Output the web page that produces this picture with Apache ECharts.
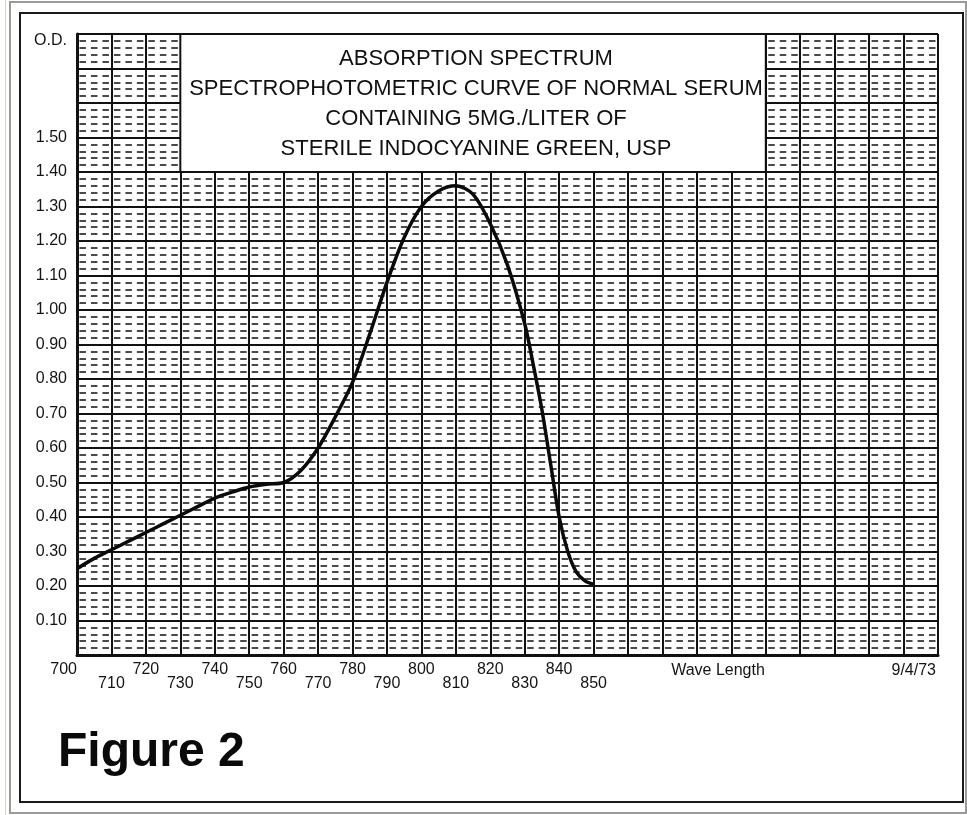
<!DOCTYPE html>
<html>
<head>
<meta charset="utf-8">
<script src="https://cdn.jsdelivr.net/npm/echarts@6/dist/echarts.min.js"></script>
<style>
html,body{margin:0;padding:0;background:#fff;}
#c{width:967px;height:815px;}
</style>
</head>
<body>
<div id="c"></div>
<script>
// Wavelength (nm) and optical density
const wavelengths = [700, 705, 710, 715, 720, 725, 730, 735, 740, 745, 750, 755, 760,
  765, 770, 775, 780, 785, 790, 795, 800, 805, 810, 815, 820, 825, 830, 832.5, 835, 837.5,
  840, 842.5, 845, 847.5, 850];
const opticalDensity = [0.25, 0.28, 0.305, 0.33, 0.355, 0.38, 0.405, 0.43, 0.455, 0.472, 0.487, 0.495, 0.50,
  0.535, 0.60, 0.69, 0.79, 0.93, 1.08, 1.21, 1.30, 1.345, 1.36, 1.335, 1.25, 1.13, 0.96, 0.84, 0.71, 0.555,
  0.40, 0.30, 0.24, 0.215, 0.205];

const xTickLabels = ['700','710','720','730','740','750','760','770','780','790','800',
  '810','820','830','840','850'];
const yTickLabels = ['0.10','0.20','0.30','0.40','0.50','0.60','0.70','0.80','0.90','1.00',
  '1.10','1.20','1.30','1.40','1.50'];
const yTopLabel = 'O.D.';
const titleLines = ['ABSORPTION SPECTRUM', 'SPECTROPHOTOMETRIC CURVE OF NORMAL SERUM',
  'CONTAINING 5MG./LITER OF', 'STERILE INDOCYANINE GREEN, USP'];
const xName = 'Wave Length';
const dateText = '9/4/73';
const figureText = 'Figure 2';
const titleBox = [[730, 1.40], [900, 1.80]];

const FONT = '"Liberation Sans", Arial, Helvetica, sans-serif';
const chart = echarts.init(document.getElementById('c'), null, {renderer: 'canvas'});

const points = wavelengths.map((w, i) => [w, opticalDensity[i]]);

chart.setOption({
  animation: false,
  backgroundColor: '#fff',
  title: {
    text: titleLines.join('\n'),
    left: 471,
    top: 39,
    textAlign: 'center',
    textStyle: {fontFamily: FONT, fontSize: 22, fontWeight: 'normal', lineHeight: 30, color: '#111'},
    z: 10
  },
  grid: {left: 77, right: 29, top: 34, bottom: 160},
  xAxis: {
    type: 'value', min: 700, max: 950, interval: 10,
    axisLine: {show: true, lineStyle: {color: '#111', width: 3}},
    axisTick: {show: false},
    splitLine: {show: true, lineStyle: {color: '#111', width: 2}},
    axisLabel: {
      margin: 8, fontSize: 16, fontFamily: FONT, color: '#141414', lineHeight: 14,
      alignMinLabel: 'right',
      formatter: function (v) {
        const s = String(Math.round(v));
        const idx = xTickLabels.indexOf(s);
        if (idx < 0) return '';
        return idx % 2 === 0 ? xTickLabels[idx] + '\n' : '\n' + xTickLabels[idx];
      }
    }
  },
  yAxis: {
    type: 'value', min: 0, max: 1.8, interval: 0.1,
    axisLine: {show: true, lineStyle: {color: '#111', width: 3}},
    axisTick: {show: false},
    splitLine: {show: true, lineStyle: {color: '#111', width: 2}},
    minorTick: {show: false, splitNumber: 5},
    minorSplitLine: {show: true, lineStyle: {color: '#4a4a4a', width: 2, type: [6.5, 4.98], dashOffset: 9}},
    axisLabel: {
      margin: 10, fontSize: 16, fontFamily: FONT, color: '#141414',
      rich: {od: {fontSize: 16, fontFamily: FONT, color: '#141414', padding: [14, 0, 0, 0]}},
      formatter: function (v) {
        const s = v.toFixed(2);
        if (Math.abs(v - 1.8) < 1e-6) return '{od|' + yTopLabel + '}';
        return yTickLabels.indexOf(s) >= 0 ? s : '';
      }
    }
  },
  series: [{
    type: 'line',
    data: points,
    smooth: 0.3,
    symbol: 'none',
    lineStyle: {color: '#0a0a0a', width: 3.5},
    markArea: {
      silent: true,
      itemStyle: {color: '#ffffff', borderColor: '#111', borderWidth: 2, opacity: 1},
      data: [[{coord: titleBox[0]}, {coord: titleBox[1]}]]
    },
    z: 3
  }],
  graphic: [
    {type: 'rect', shape: {x: 5, y: -5, width: 1, height: 830}, style: {fill: '#d9d3c4'}, silent: true},
    {type: 'rect', shape: {x: 10, y: 2, width: 956, height: 811}, style: {fill: 'none', stroke: '#9a9a9a', lineWidth: 2}, silent: true},
    {type: 'rect', shape: {x: 20, y: 13, width: 943, height: 789}, style: {fill: 'none', stroke: '#1a1a1a', lineWidth: 2}, silent: true},
    {type: 'text', style: {text: xName, x: 718, y: 671, textAlign: 'center', textVerticalAlign: 'middle', font: '16px ' + FONT, fill: '#141414'}, silent: true},
    {type: 'text', style: {text: dateText, x: 936, y: 671, textAlign: 'right', textVerticalAlign: 'middle', font: '16px ' + FONT, fill: '#141414'}, silent: true},
    {type: 'text', style: {text: figureText, x: 58, y: 753, textAlign: 'left', textVerticalAlign: 'middle', font: 'bold 48px ' + FONT, fill: '#0a0a0a'}, silent: true}
  ]
});
</script>
</body>
</html>
